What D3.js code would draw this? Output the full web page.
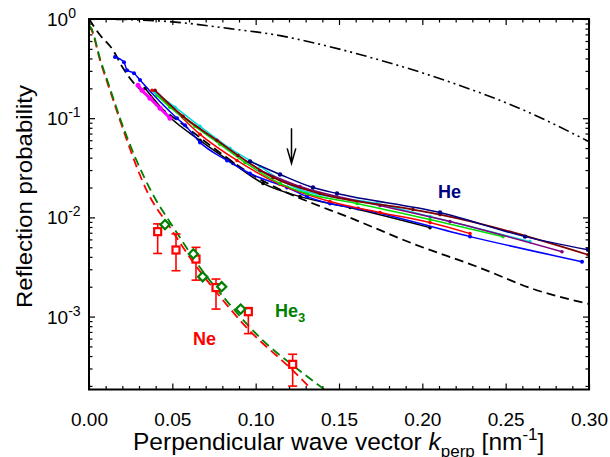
<!DOCTYPE html>
<html>
<head>
<meta charset="utf-8">
<script src="https://cdn.jsdelivr.net/npm/d3@7"></script>
<style>
body { margin: 0; background: #fff; }
svg { display: block; font-family: "Liberation Sans", Arial, sans-serif; }
</style>
</head>
<body>
<script>
// axis ticks
var xTicks = [0, 0.05, 0.10, 0.15, 0.20, 0.25, 0.30];
var xTickLabels = ['0.00', '0.05', '0.10', '0.15', '0.20', '0.25', '0.30'];
var yTicks = [1, 0.1, 0.01, 0.001];
var yTickExp = ['0', '-1', '-2', '-3'];

// He measurements, [k_perp, R]
var heBlue = [[0.0156, 0.413], [0.021, 0.367], [0.0228, 0.305], [0.027, 0.284], [0.0306, 0.242],
	[0.0528, 0.0998], [0.0576, 0.0848], [0.0666, 0.057], [0.0828, 0.0375], [0.0966, 0.0277],
	[0.1188, 0.020], [0.1308, 0.0162], [0.1446, 0.0138], [0.1614, 0.0123], [0.2286, 0.0064], [0.2958, 0.00357]];
var heMagenta = [[0.0294, 0.215], [0.0318, 0.191], [0.0366, 0.159], [0.0426, 0.126], [0.0486, 0.0998]];
var heBlack = [[0.0336, 0.200], [0.0486, 0.102], [0.0666, 0.0598], [0.0864, 0.035], [0.1044, 0.022],
	[0.1266, 0.0162], [0.1566, 0.01256], [0.2046, 0.00788]];
var heRed = [[0.0378, 0.191], [0.0486, 0.132], [0.0666, 0.0687], [0.0888, 0.0375], [0.1146, 0.0215],
	[0.1446, 0.01445], [0.1746, 0.0112], [0.2046, 0.00886], [0.2286, 0.00686]];
var heGreen = [[0.0408, 0.170], [0.0486, 0.129], [0.0636, 0.0828], [0.0786, 0.0545], [0.0936, 0.0358],
	[0.1146, 0.022], [0.1308, 0.0174], [0.1608, 0.0138], [0.2046, 0.0095], [0.2484, 0.0064]];
var heCyan = [[0.0396, 0.183], [0.0516, 0.129], [0.0666, 0.0828], [0.0846, 0.0496], [0.1026, 0.0326],
	[0.1146, 0.0241], [0.1266, 0.0191], [0.1728, 0.0138], [0.2046, 0.0102], [0.2646, 0.00569]];
var heMaroon = [[0.0396, 0.191], [0.0564, 0.1045], [0.0768, 0.0598], [0.0894, 0.0421], [0.1104, 0.0253],
	[0.1386, 0.0174], [0.1944, 0.012], [0.2106, 0.01067], [0.2994, 0.0042]];
var heNavy = [[0.0966, 0.0367], [0.1146, 0.0271], [0.1344, 0.020], [0.1488, 0.0174], [0.2106, 0.0112],
	[0.2616, 0.0064], [0.2994, 0.00472]];
var hePurple = [[0.1026, 0.0297], [0.1266, 0.0205], [0.1746, 0.01316], [0.2166, 0.00907], [0.2838, 0.00451]];

// model curves, [k_perp, R]
var fitHe = [[0, 1.0], [0.0066, 0.689], [0.0144, 0.486], [0.0204, 0.32], [0.0264, 0.231], [0.0348, 0.170],
	[0.0426, 0.129], [0.0546, 0.091], [0.0768, 0.0473], [0.0966, 0.0277], [0.1146, 0.0191], [0.1344, 0.0138],
	[0.1548, 0.0102], [0.1944, 0.00543], [0.2346, 0.0031], [0.2664, 0.0019], [0.30, 0.00134]];
var fitDeep = [[0, 1.0], [0.0324, 0.975], [0.0486, 0.94], [0.0846, 0.80], [0.1146, 0.68], [0.1368, 0.565],
	[0.1746, 0.385], [0.2148, 0.237], [0.2646, 0.113], [0.30, 0.058]];
var fitNe = [[0, 0.85], [0.0016, 0.77], [0.0066, 0.385], [0.0126, 0.19], [0.0186, 0.095], [0.0356, 0.01727],
	[0.0486, 0.00794], [0.0626, 0.00352], [0.0766, 0.00175], [0.0946, 0.000774], [0.1226, 0.000283], [0.1346, 0.000177]];
var fitHe3 = [[0, 0.87], [0.0016, 0.79], [0.0066, 0.40], [0.0126, 0.20], [0.0186, 0.10], [0.0376, 0.01795],
	[0.0506, 0.00794], [0.0666, 0.00313], [0.0826, 0.00144], [0.1026, 0.000613], [0.1266, 0.000283], [0.1426, 0.000177]];

// Ne points with error bars
var neK = [0.0412, 0.0522, 0.0642, 0.0762, 0.0956, 0.1222];
var neR = [7.18e-3, 4.69e-3, 3.8e-3, 1.96e-3, 1.12e-3, 3.3e-4];
var neHi = [8.6e-3, 6.81e-3, 4.99e-3, 2.39e-3, 1.23e-3, 4.17e-4];
var neLo = [4.33e-3, 2.9e-3, 2.33e-3, 1.19e-3, 6.73e-4, 1.99e-4];

// He3 points
var he3K = [0.0456, 0.0626, 0.0682, 0.0796, 0.091];
var he3R = [8.45e-3, 4.28e-3, 2.52e-3, 2.0e-3, 1.19e-3];

var svg = d3.select('body').append('svg')
	.attr('width', 610)
	.attr('height', 457);

var x = d3.scaleLinear().domain([0, 0.30]).range([89, 589]);
var y = d3.scaleLog().domain([1.84e-4, 1]).range([389.5, 19]);

svg.append('clipPath').attr('id', 'plot')
	.append('rect').attr('x', 89).attr('y', 19).attr('width', 500).attr('height', 370.5);

// ticks
var xMinor = d3.range(0, 31).filter(function(i) { return i % 5; }).map(function(i) { return i / 100; });
var yMinor = [];
[1e-4, 1e-3, 1e-2, 1e-1].forEach(function(p) {
	for (var m = 2; m <= 9; m++) {
		if (m * p >= 1.84e-4) yMinor.push(m * p);
	}
});

function axisStyle(g) {
	g.select('.domain').remove();
	g.selectAll('line').attr('stroke', '#000').attr('stroke-width', 1.2);
}

svg.append('g').attr('transform', 'translate(0,389.5)')
	.call(d3.axisBottom(x).tickValues(xTicks).tickSize(-6).tickPadding(23)
		.tickFormat(function(d, i) { return xTickLabels[i]; }))
	.call(axisStyle)
	.selectAll('text').attr('font-size', 19).attr('font-family', null).attr('fill', '#000');
svg.append('g').attr('transform', 'translate(0,389.5)')
	.call(d3.axisBottom(x).tickValues(xMinor).tickSize(-3.5).tickFormat(''))
	.call(axisStyle);
svg.append('g').attr('transform', 'translate(0,19)')
	.call(d3.axisTop(x).tickValues(xTicks).tickSize(-6).tickFormat(''))
	.call(axisStyle);
svg.append('g').attr('transform', 'translate(0,19)')
	.call(d3.axisTop(x).tickValues(xMinor).tickSize(-3.5).tickFormat(''))
	.call(axisStyle);
svg.append('g').attr('transform', 'translate(89,0)')
	.call(d3.axisLeft(y).tickValues(yTicks).tickSize(-6).tickFormat(''))
	.call(axisStyle);
svg.append('g').attr('transform', 'translate(89,0)')
	.call(d3.axisLeft(y).tickValues(yMinor).tickSize(-3.5).tickFormat(''))
	.call(axisStyle);
svg.append('g').attr('transform', 'translate(589,0)')
	.call(d3.axisRight(y).tickValues(yTicks).tickSize(-6).tickFormat(''))
	.call(axisStyle);
svg.append('g').attr('transform', 'translate(589,0)')
	.call(d3.axisRight(y).tickValues(yMinor).tickSize(-3.5).tickFormat(''))
	.call(axisStyle);

// y tick labels 10^n
yTicks.forEach(function(v, i) {
	var t = svg.append('text')
		.attr('x', 47)
		.attr('y', y(v) + 7)
		.attr('font-size', 19);
	t.append('tspan').text('10');
	t.append('tspan').attr('font-size', 14).attr('dy', -8).text(yTickExp[i]);
});

var plot = svg.append('g').attr('clip-path', 'url(#plot)');

var line = d3.line()
	.x(function(d) { return x(d[0]); })
	.y(function(d) { return y(d[1]); })
	.curve(d3.curveMonotoneX);

function drawCurve(data, color, width, dash) {
	plot.append('path')
		.datum(data)
		.attr('fill', 'none')
		.attr('stroke', color)
		.attr('stroke-width', width)
		.attr('stroke-dasharray', dash)
		.attr('d', line);
}

drawCurve(fitDeep, '#000', 1.6, '11,4,2,4,2,4');
drawCurve(fitHe, '#000', 1.8, '9,5');
drawCurve(fitNe, '#ff0000', 1.8, '9,5');
drawCurve(fitHe3, '#008000', 1.8, '9,5');

var heSeries = [
	{data: heBlack, color: '#000000', w: 1.5, r: 1.8},
	{data: heBlue, color: '#0000ff', w: 1.5, r: 2},
	{data: heRed, color: '#ff0000', w: 1.5, r: 1.8},
	{data: heGreen, color: '#00dd00', w: 1.5, r: 1.8},
	{data: heCyan, color: '#00dddd', w: 1.5, r: 1.8},
	{data: hePurple, color: '#800080', w: 1.5, r: 1.8},
	{data: heMaroon, color: '#800000', w: 1.8, r: 1.8},
	{data: heNavy, color: '#000080', w: 1.5, r: 2.2},
	{data: heMagenta, color: '#ff00ff', w: 3, r: 2.5}
];
heSeries.forEach(function(s) {
	drawCurve(s.data, s.color, s.w, null);
	plot.selectAll(null)
		.data(s.data)
		.enter().append('circle')
		.attr('cx', function(d) { return x(d[0]); })
		.attr('cy', function(d) { return y(d[1]); })
		.attr('r', s.r)
		.attr('fill', s.color);
});

// Ne error bars and squares
var ne = svg.append('g').attr('stroke', '#ff0000').attr('stroke-width', 1.6);
neK.forEach(function(k, i) {
	var cx = x(k);
	ne.append('line').attr('x1', cx).attr('x2', cx).attr('y1', y(neHi[i])).attr('y2', y(neLo[i]));
	ne.append('line').attr('x1', cx - 4.5).attr('x2', cx + 4.5).attr('y1', y(neHi[i])).attr('y2', y(neHi[i]));
	ne.append('line').attr('x1', cx - 4.5).attr('x2', cx + 4.5).attr('y1', y(neLo[i])).attr('y2', y(neLo[i]));
	ne.append('rect').attr('x', cx - 3.5).attr('y', y(neR[i]) - 3.5)
		.attr('width', 7).attr('height', 7)
		.attr('fill', '#fff').attr('stroke-width', 2.2);
});

// He3 diamonds
svg.append('g').selectAll('path')
	.data(he3K)
	.enter().append('path')
	.attr('d', function(k, i) {
		var cx = x(k), cy = y(he3R[i]);
		return 'M' + cx + ',' + (cy - 4.6) + 'L' + (cx + 4.6) + ',' + cy +
			'L' + cx + ',' + (cy + 4.6) + 'L' + (cx - 4.6) + ',' + cy + 'Z';
	})
	.attr('fill', '#fff')
	.attr('stroke', '#008000')
	.attr('stroke-width', 2.2);

// arrow
var ax = x(0.1215), aTop = y(0.079), aTip = y(0.035);
svg.append('path')
	.attr('d', 'M' + ax + ',' + aTop + 'L' + ax + ',' + aTip +
		'M' + (ax - 4.3) + ',' + (aTip - 15) + 'L' + ax + ',' + aTip + 'L' + (ax + 4.3) + ',' + (aTip - 15))
	.attr('fill', 'none')
	.attr('stroke', '#000')
	.attr('stroke-width', 1.5);

// frame
svg.append('rect')
	.attr('x', 89).attr('y', 19).attr('width', 500).attr('height', 370.5)
	.attr('fill', 'none').attr('stroke', '#000').attr('stroke-width', 2);

// labels
svg.append('text').attr('x', x(0.2094)).attr('y', y(0.01567))
	.attr('font-size', 18).attr('font-weight', 'bold').attr('fill', '#000080').text('He');
var he3Label = svg.append('text').attr('x', x(0.1116)).attr('y', y(9.9e-4))
	.attr('font-size', 18).attr('font-weight', 'bold').attr('fill', '#008000');
he3Label.append('tspan').text('He');
he3Label.append('tspan').attr('font-size', 13).attr('dy', 5).text('3');
svg.append('text').attr('x', x(0.0624)).attr('y', y(5.16e-4))
	.attr('font-size', 18).attr('font-weight', 'bold').attr('fill', '#ff0000').text('Ne');

// axis titles
var xt = svg.append('text').attr('x', 133).attr('y', 450).attr('font-size', 24.5);
xt.append('tspan').text('Perpendicular wave vector ');
xt.append('tspan').attr('font-style', 'italic').text('k');
xt.append('tspan').attr('font-size', 17).attr('dy', 7).text('perp');
xt.append('tspan').attr('dy', -7).text(' [nm');
xt.append('tspan').attr('font-size', 17).attr('dy', -10).text('-1');
xt.append('tspan').attr('dy', 10).text(']');

svg.append('text')
	.attr('transform', 'translate(32,196.5) rotate(-90)')
	.attr('text-anchor', 'middle')
	.attr('font-size', 22)
	.attr('textLength', 223)
	.attr('lengthAdjust', 'spacingAndGlyphs')
	.text('Reflection probability');
</script>
</body>
</html>
